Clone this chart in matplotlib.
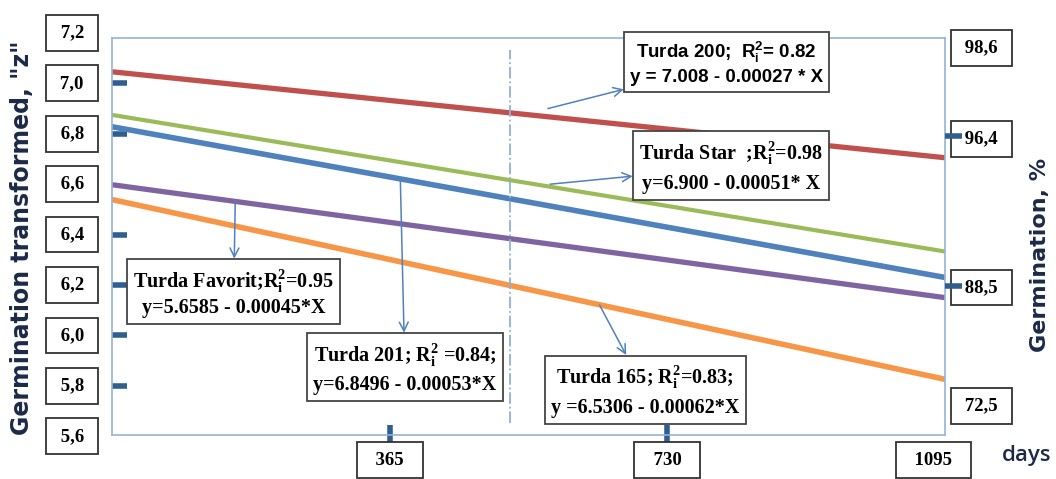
import matplotlib.pyplot as plt

# day axis
days = [0, 1095]
x_ticks = [365, 730]
x_labels = ['365', '730', '1095']
x_label_pos = [365, 730, 1080]

# left axis, transformed germination "z"
z_labels = ['7,2', '7,0', '6,8', '6,6', '6,4', '6,2', '6,0', '5,8', '5,6']
z_label_pos = [7.2, 7.0, 6.8, 6.6, 6.4, 6.2, 6.0, 5.8, 5.6]
z_ticks = [7.0, 6.8, 6.4, 6.2, 6.0, 5.8]

# right axis, germination %
pct_labels = ['98,6', '96,4', '88,5', '72,5']
pct_label_pos = [7.14, 6.78, 6.19, 5.72]
pct_ticks = [6.79, 6.195]

# regression lines (value at day 0 and day 1095)
turda200 = [7.046, 6.705]
turda_star = [6.875, 6.333]
turda201 = [6.828, 6.230]
turda_favorit = [6.598, 6.150]
turda165 = [6.539, 5.826]

fig = plt.figure(figsize=(10.56, 4.79), dpi=100)
ax = fig.add_axes([112/1056, 44/479, 833/1056, 397/479])
ax.set_xlim(0, 1095)
ax.set_ylim(5.605, 7.18)

ax.plot(days, turda200, color='#c0504d', lw=3.8, solid_capstyle='butt')
ax.plot(days, turda_star, color='#9bbb59', lw=3.0, solid_capstyle='butt')
ax.plot(days, turda201, color='#4f81bd', lw=4.0, solid_capstyle='butt')
ax.plot(days, turda_favorit, color='#8064a2', lw=3.8, solid_capstyle='butt')
ax.plot(days, turda165, color='#f79646', lw=4.0, solid_capstyle='butt')

ax.axvline(523, ymin=0.03, ymax=0.97, color='#8fb0dc', lw=1.3, ls='-.')

for s in ax.spines.values():
    s.set_color('#95b3d7')
    s.set_linewidth(1.2)

tickc = '#2e5f8f'
ax.set_xticks(x_ticks)
ax.set_xticklabels([])
ax.tick_params(axis='x', direction='inout', length=14, width=4, color=tickc)
ax.set_yticks(z_ticks)
ax.set_yticklabels([])
ax.tick_params(axis='y', direction='in', length=11, width=4, color=tickc)

ax2 = ax.twinx()
ax2.set_ylim(ax.get_ylim())
ax2.set_yticks(pct_ticks)
ax2.set_yticklabels([])
ax2.tick_params(axis='y', direction='out', length=12, width=4, color=tickc)
for s in ax2.spines.values():
    s.set_visible(False)

box = dict(boxstyle='square,pad=0.5', fc='white', ec='#333333', lw=1.3)
lab_font = dict(family='Liberation Serif', weight='bold', fontsize=13.5)

for t, p in zip(z_labels, z_label_pos):
    ax.text(-0.048, p, ' ' + t + ' ', transform=ax.get_yaxis_transform(),
            ha='center', va='center', bbox=box, clip_on=False, **lab_font)
for t, p in zip(pct_labels, pct_label_pos):
    ax.text(1.044, p, ' ' + t + ' ', transform=ax.get_yaxis_transform(),
            ha='center', va='center', bbox=box, clip_on=False, **lab_font)
for t, p in zip(x_labels, x_label_pos):
    ax.text(p, -0.063, '  ' + t + '  ', transform=ax.get_xaxis_transform(),
            ha='center', va='center', bbox=box, clip_on=False, **lab_font)

txtc = '#1c2a48'
fig.text(22/1056, 1 - 238/479, 'Germination transformed, "z"', rotation=90,
         ha='center', va='center', fontsize=17, fontweight='bold', color=txtc,
         family='DejaVu Sans')
fig.text(1040/1056, 1 - 255/479, 'Germination, %', rotation=90,
         ha='center', va='center', fontsize=16, fontweight='bold', color=txtc,
         family='DejaVu Sans')
fig.text(1027/1056, 1 - 455/479, 'days', ha='center', va='center',
         fontsize=16, fontweight='semibold', color=txtc, family='Open Sans')

abox = dict(boxstyle='square,pad=0.3', fc='white', ec='#444444', lw=1.3)
arr = dict(arrowstyle='<-', color='#4f81bd', lw=1.1, mutation_scale=16,
           shrinkA=0, shrinkB=0)
serif = dict(family='Liberation Serif', weight='bold', fontsize=14.5)
sans = dict(family='Liberation Sans', weight='bold', fontsize=13.5)

ax.annotate('Turda 200;  R$\\mathregular{_i^2}$= 0.82\ny = 7.008 - 0.00027 * X',
            xy=(573, 6.90), xytext=(808, 7.08), ha='center', va='center',
            bbox=abox, arrowprops=arr, linespacing=1.3, **sans)
ax.annotate('Turda Star  ;R$\\mathregular{_i^2}$=0.98\ny=6.900 - 0.00051* X',
            xy=(576, 6.60), xytext=(814, 6.67), ha='center', va='center',
            bbox=abox, arrowprops=arr, linespacing=1.45, **serif)
ax.annotate('Turda Favorit;R$\\mathregular{_i^2}$=0.95\ny=5.6585 - 0.00045*X',
            xy=(162, 6.53), xytext=(160, 6.17), ha='center', va='center',
            bbox=abox, arrowprops=arr, linespacing=1.2, **serif)
ax.annotate('Turda 201; R$\\mathregular{_i^2}$ =0.84;\ny=6.8496 - 0.00053*X',
            xy=(379, 6.62), xytext=(385, 5.87), ha='center', va='center',
            bbox=abox, arrowprops=arr, linespacing=1.4, **serif)
ax.annotate('Turda 165; R$\\mathregular{_i^2}$=0.83;\ny =6.5306 - 0.00062*X',
            xy=(641, 6.12), xytext=(701, 5.78), ha='center', va='center',
            bbox=abox, arrowprops=arr, linespacing=1.45, **serif)

fig.savefig('out.png', dpi=100)
